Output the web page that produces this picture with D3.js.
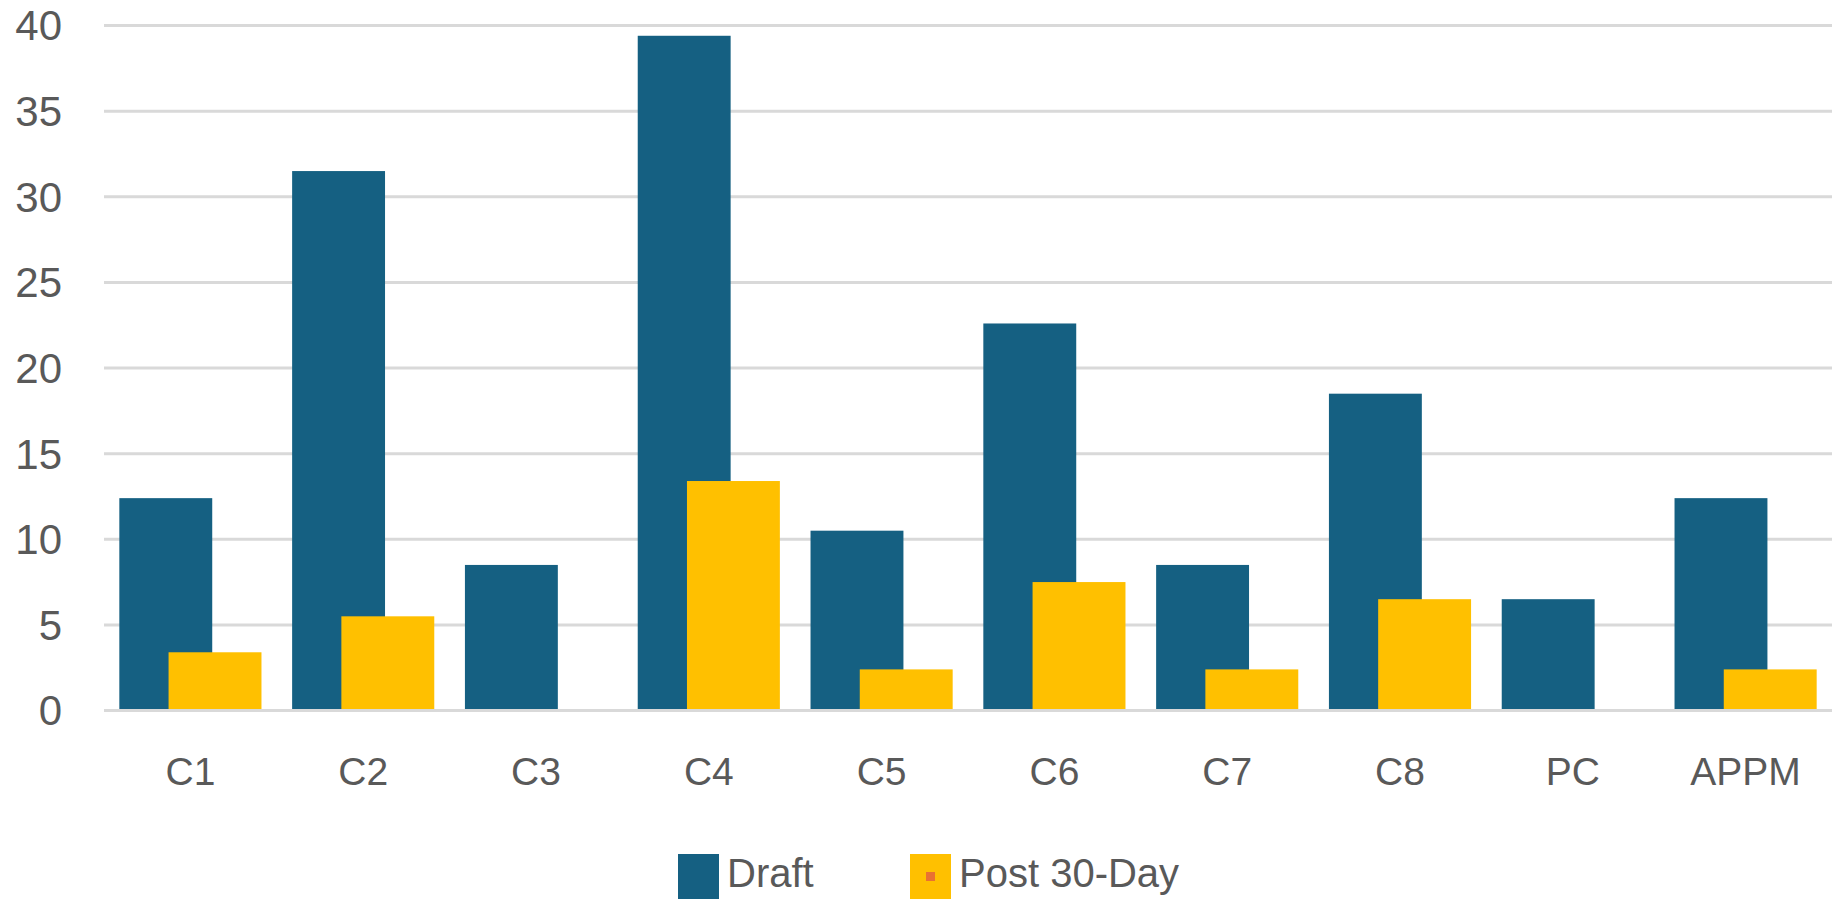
<!DOCTYPE html>
<html>
<head>
<meta charset="utf-8">
<script src="https://cdn.jsdelivr.net/npm/d3@7"></script>
<style>
  body { margin: 0; background: #fff; }
  text { font-family: "Liberation Sans", Arial, sans-serif; fill: #595959; }
</style>
</head>
<body>
<script>
let categories = ["C1", "C2", "C3", "C4", "C5", "C6", "C7", "C8", "PC", "APPM"]
let series = ["Draft", "Post 30-Day"]
let draft = [12.4, 31.5, 8.5, 39.4, 10.5, 22.6, 8.5, 18.5, 6.5, 12.4]
let post30 = [3.4, 5.5, 0, 13.4, 2.4, 7.5, 2.4, 6.5, 0, 2.4]
let yTicks = [0, 5, 10, 15, 20, 25, 30, 35, 40]
let colors = ["#156082", "#FFC000"]

let width = 1840
let height = 899
let plotLeft = 104
let plotRight = 1832
let plotTop = 25.5
let plotBottom = 710.5

let svg = d3.select("body")
            .append("svg")
            .attr("width", width)
            .attr("height", height)

let xScale = d3.scaleBand()
               .domain(categories)
               .range([plotLeft, plotRight])
               .padding(0)

let yScale = d3.scaleLinear()
               .domain([0, 40])
               .range([plotBottom, plotTop])

// bars overlap a bit less than half a bar
let overlap = 0.47
let gapRatio = 0.33
let barW = xScale.bandwidth() / (2 - overlap + gapRatio)
let pad = (xScale.bandwidth() - (2 - overlap) * barW) / 2

let xSeries = d3.scalePoint()
                .domain(series)
                .range([pad, pad + (1 - overlap) * barW])

// gridlines
svg.append("g")
   .selectAll("line")
   .data(yTicks)
   .enter()
   .append("line")
   .attr("x1", plotLeft)
   .attr("x2", plotRight)
   .attr("y1", d => yScale(d))
   .attr("y2", d => yScale(d))
   .attr("stroke", "#d9d9d9")
   .attr("stroke-width", 3)

// y axis labels
let yAxis = d3.axisLeft(yScale)
              .tickValues(yTicks)
              .tickSize(0)
              .tickPadding(0)

svg.append("g")
   .attr("transform", "translate(62,1)")
   .call(yAxis)
   .call(g => g.select(".domain").remove())
   .selectAll("text")
   .attr("font-size", 42)
   .attr("font-family", "Liberation Sans, Arial, sans-serif")
   .attr("fill", "#595959")

let rows = categories.map((c, i) => ({ cat: c, values: [draft[i], post30[i]] }))

series.forEach((s, si) => {
    svg.append("g")
       .selectAll("rect")
       .data(rows)
       .enter()
       .append("rect")
       .attr("x", d => xScale(d.cat) + xSeries(s))
       .attr("width", barW)
       .attr("y", d => yScale(d.values[si]))
       .attr("height", d => Math.max(0, yScale(0) - 1.5 - yScale(d.values[si])))
       .attr("fill", colors[si])
})

// x axis labels
let xAxis = d3.axisBottom(xScale)
              .tickSize(0)
              .tickPadding(0)

svg.append("g")
   .attr("transform", "translate(0,757)")
   .call(xAxis)
   .call(g => g.select(".domain").remove())
   .selectAll("text")
   .attr("font-size", 39)
   .attr("font-family", "Liberation Sans, Arial, sans-serif")
   .attr("fill", "#595959")

// legend
let legend = svg.append("g")
let legendX = [678, 910]

series.forEach((s, i) => {
    let g = legend.append("g").attr("transform", "translate(" + legendX[i] + ",0)")
    g.append("rect")
     .attr("x", 0)
     .attr("y", 854)
     .attr("width", 41)
     .attr("height", 45)
     .attr("fill", colors[i])
    if (i == 1) {
        g.append("rect")
         .attr("x", 16)
         .attr("y", 872)
         .attr("width", 9)
         .attr("height", 9)
         .attr("fill", "#E97132")
    }
    g.append("text")
     .attr("x", 49)
     .attr("y", 887)
     .attr("font-size", 40)
     .text(s)
})
</script>
</body>
</html>
